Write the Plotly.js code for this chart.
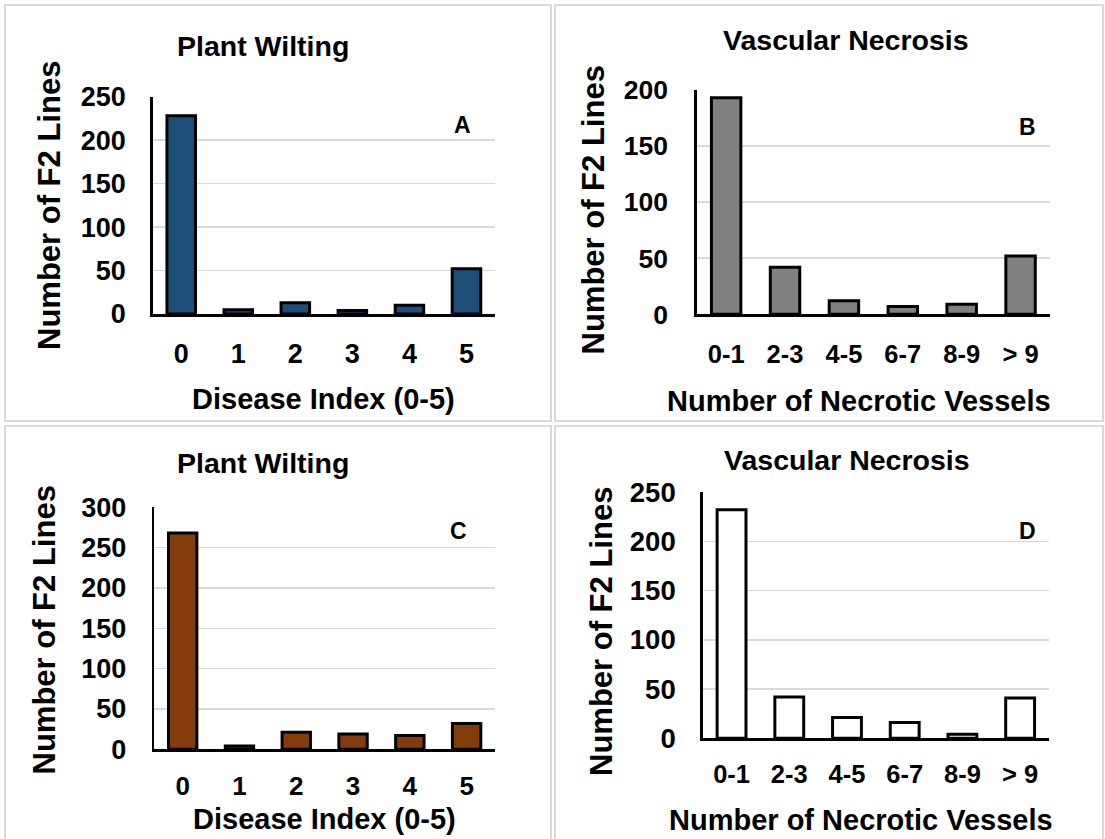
<!DOCTYPE html>
<html>
<head>
<meta charset="utf-8">
<script src="https://cdn.plot.ly/plotly-3.0.1.min.js"></script>
<style>html,body{margin:0;padding:0;background:#fff;}</style>
</head>
<body>
<div id="chart" style="width:1105px;height:839px;"></div>
<script>
// Category labels
const diseaseIndex = ['0', '1', '2', '3', '4', '5'];
const vesselBins = ['0-1', '2-3', '4-5', '6-7', '8-9', '> 9'];

// Number of F2 lines per class
const wiltingA = [228, 5, 13, 4, 10, 52];
const necrosisB = [193, 42, 12, 7, 9, 52];
const wiltingC = [268, 4, 21, 19, 17, 32];
const necrosisD = [232, 42, 21, 16, 4, 41];

// Panel titles and tags
const panelTitles = ['Plant Wilting', 'Vascular Necrosis', 'Plant Wilting', 'Vascular Necrosis'];
const panelTags = ['A', 'B', 'C', 'D'];
const xTitles = ['Disease Index (0-5)', 'Number of Necrotic Vessels', 'Disease Index (0-5)', 'Number of Necrotic Vessels'];
const yTitle = 'Number of F2 Lines';
const yMax = [250, 200, 300, 250];

const W = 1105, H = 839;
const px = x => x / W;
const py = y => 1 - y / H;
const FONT = 'Liberation Sans, Arial, sans-serif';

// Layout of each panel in pixels: plot box, title, axis titles, tag
const panels = [
  { cats: diseaseIndex, vals: wiltingA, color: '#1f4e79',
    box: [152.7, 96.7, 495, 314], title: [262.5, 46], ytl: [49, 206], xtl: [323, 399], tag: [462, 125],
    tickSize: 27, ytickSize: 27, xStand: 14, yStand: 19, frame: [5, 5, 551, 421] },
  { cats: vesselBins, vals: necrosisB, color: '#808080',
    box: [696.7, 90, 1050, 314.3], title: [846, 40], ytl: [592.5, 210], xtl: [859, 401], tag: [1027, 127],
    tickSize: 25.5, ytickSize: 26.5, xStand: 15, yStand: 21, frame: [555, 5, 1103, 421] },
  { cats: diseaseIndex, vals: wiltingC, color: '#843c0c',
    box: [154.3, 507.3, 495, 749.3], title: [263, 463], ytl: [43.5, 630], xtl: [324, 819], tag: [458, 531],
    tickSize: 26, ytickSize: 27, xStand: 11, yStand: 20, frame: [5, 426, 551, 850] },
  { cats: vesselBins, vals: necrosisD, color: '#ffffff',
    box: [702.7, 492, 1049, 738.3], title: [847, 460], ytl: [601, 632], xtl: [861, 820], tag: [1027, 531],
    tickSize: 25.5, ytickSize: 27.5, xStand: 11, yStand: 19, frame: [555, 426, 1103, 850] }
];

const data = [];
const layout = {
  width: W, height: H,
  margin: { l: 0, r: 0, t: 0, b: 0 },
  paper_bgcolor: '#ffffff',
  plot_bgcolor: '#ffffff',
  showlegend: false,
  bargap: 0.5,
  font: { family: FONT, color: '#000000', weight: 700 },
  annotations: [],
  shapes: []
};

panels.forEach((p, i) => {
  const n = i === 0 ? '' : String(i + 1);
  data.push({
    type: 'bar',
    x: p.cats,
    y: p.vals,
    xaxis: 'x' + n,
    yaxis: 'y' + n,
    marker: { color: p.color, line: { color: '#000000', width: 3 } },
    hoverinfo: 'x+y'
  });

  const [x0, y0, x1, y1] = p.box;
  layout['xaxis' + n] = {
    type: 'category',
    domain: [px(x0), px(x1)],
    anchor: 'y' + n,
    range: [-0.5, 5.5],
    showline: true, linecolor: '#000000', linewidth: 3,
    showgrid: false, zeroline: false, ticks: '',
    ticklabelstandoff: p.xStand,
    tickfont: { family: FONT, size: p.tickSize, color: '#000000', weight: 700 },
    fixedrange: true
  };
  layout['yaxis' + n] = {
    domain: [py(y1), py(y0)],
    anchor: 'x' + n,
    range: [0, yMax[i]],
    dtick: 50,
    showline: true, linecolor: '#000000', linewidth: 2.5,
    showgrid: true, gridcolor: '#d9d9d9', gridwidth: 1.5,
    zeroline: false, ticks: '',
    ticklabelstandoff: p.yStand,
    tickfont: { family: FONT, size: p.ytickSize, color: '#000000', weight: 700 },
    fixedrange: true
  };

  const ann = (text, pos, size, extra) => Object.assign({
    text: text, xref: 'paper', yref: 'paper',
    x: px(pos[0]), y: py(pos[1]),
    xanchor: 'center', yanchor: 'middle',
    showarrow: false,
    font: { family: FONT, size: size, color: '#000000', weight: 700 }
  }, extra || {});

  layout.annotations.push(ann(panelTitles[i], p.title, 28.5));
  layout.annotations.push(ann(yTitle, p.ytl, 31, { textangle: -90 }));
  layout.annotations.push(ann(xTitles[i], p.xtl, 29));
  layout.annotations.push(ann(panelTags[i], p.tag, 23));

  const [fx0, fy0, fx1, fy1] = p.frame;
  layout.shapes.push({
    type: 'rect', xref: 'paper', yref: 'paper',
    x0: px(fx0), x1: px(fx1), y0: py(fy1), y1: py(fy0),
    line: { color: '#d9d9d9', width: 2 }, fillcolor: 'rgba(0,0,0,0)', layer: 'below'
  });
});

Plotly.newPlot('chart', data, layout, { displayModeBar: false, staticPlot: true });
</script>
</body>
</html>
